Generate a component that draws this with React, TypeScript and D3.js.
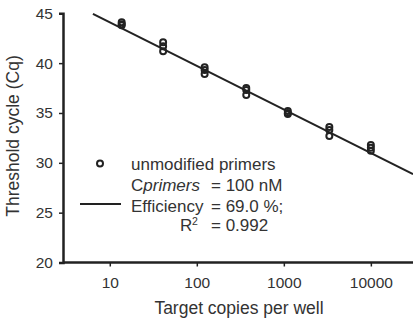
import { useEffect, useRef } from 'react';
import * as d3 from 'd3';

// Target copies per well (3-fold dilution series) and measured Cq, triplicates
const copies = [13.7, 41, 123, 370, 1111, 3333, 10000];
const cqRep1 = [44.1, 42.1, 39.6, 37.5, 35.2, 33.6, 31.8];
const cqRep2 = [43.9, 41.7, 39.3, 37.3, 35.0, 33.3, 31.5];
const cqRep3 = [43.8, 41.2, 38.9, 36.8, 34.9, 32.7, 31.2];

// Linear fit on log10(copies)
const fitSlope = -4.37;
const fitIntercept = 48.46;
const fitRange = [6.4, 30500];

const xTicks = [10, 100, 1000, 10000];
const yTicks = [20, 25, 30, 35, 40, 45];

const seriesLabel = 'unmodified primers';
const primerConc = '= 100 nM';
const efficiencyText = '= 69.0 %;';
const r2Text = '= 0.992';

const WIDTH = 413;
const HEIGHT = 324;
const FONT = '"Liberation Sans", Arial, Helvetica, sans-serif';
const INK = '#222';
const TEXT = '#333';

export default function App() {
    const svgRef = useRef<SVGSVGElement>(null);

    useEffect(() => {
        if (!svgRef.current) return;
        const root = d3.select(svgRef.current);
        root.selectAll('*').remove();

        const xScale = d3.scaleLog().domain([2.9, 30500]).range([63, 413]);
        const yScale = d3.scaleLinear().domain([20, 45]).range([262.5, 13.3]);

        // Axes
        const xAxis = root.append('g')
            .attr('transform', `translate(0, ${yScale(20)})`)
            .call(d3.axisBottom(xScale).tickValues(xTicks).tickFormat(d3.format('d')).tickSize(4).tickPadding(10));
        xAxis.select('.domain').attr('stroke', INK).attr('stroke-width', 2.5).attr('d', `M${xScale.range()[0]},0H${WIDTH}`);
        xAxis.selectAll('.tick line').attr('stroke', INK).attr('stroke-width', 1.5);
        xAxis.selectAll('.tick text')
            .attr('fill', TEXT)
            .style('font-family', FONT)
            .style('font-size', '15.5px');

        const yAxis = root.append('g')
            .attr('transform', `translate(${xScale.range()[0]}, 0)`)
            .call(d3.axisLeft(yScale).tickValues(yTicks).tickSize(4).tickPadding(6));
        yAxis.select('.domain').attr('stroke', INK).attr('stroke-width', 2.5);
        yAxis.selectAll('.tick line').attr('stroke', INK).attr('stroke-width', 1.5);
        yAxis.selectAll('.tick text')
            .attr('fill', TEXT)
            .style('font-family', FONT)
            .style('font-size', '15.5px');

        // Axis titles
        root.append('text')
            .attr('x', 239)
            .attr('y', 314)
            .attr('text-anchor', 'middle')
            .attr('fill', TEXT)
            .style('font-family', FONT)
            .style('font-size', '17.5px')
            .text('Target copies per well');

        root.append('text')
            .attr('transform', 'translate(19, 136) rotate(-90)')
            .attr('text-anchor', 'middle')
            .attr('fill', TEXT)
            .style('font-family', FONT)
            .style('font-size', '17.5px')
            .text('Threshold cycle (Cq)');

        // Fit line
        const fitData = fitRange.map(x => ({ x, y: fitIntercept + fitSlope * Math.log10(x) }));
        root.append('clipPath').attr('id', 'plot-clip')
            .append('rect').attr('x', 63).attr('y', 0).attr('width', WIDTH - 63).attr('height', HEIGHT);
        root.append('path')
            .datum(fitData)
            .attr('clip-path', 'url(#plot-clip)')
            .attr('fill', 'none')
            .attr('stroke', INK)
            .attr('stroke-width', 2)
            .attr('d', d3.line<{ x: number, y: number }>().x(d => xScale(d.x)).y(d => yScale(d.y)));

        // Data points
        const points = [cqRep1, cqRep2, cqRep3].flatMap(rep => rep.map((cq, i) => ({ x: copies[i], y: cq })));
        root.selectAll('.dot')
            .data(points)
            .enter()
            .append('circle')
            .attr('cx', d => xScale(d.x))
            .attr('cy', d => yScale(d.y))
            .attr('r', 3)
            .attr('fill', 'none')
            .attr('stroke', INK)
            .attr('stroke-width', 2);

        // Legend
        const legend = root.append('g')
            .attr('fill', TEXT)
            .style('font-family', FONT)
            .style('font-size', '17px');

        legend.append('circle')
            .attr('cx', 100).attr('cy', 163.5).attr('r', 3)
            .attr('fill', 'none').attr('stroke', INK).attr('stroke-width', 2);
        legend.append('text').attr('x', 131).attr('y', 169.5).text(seriesLabel);

        const cLine = legend.append('text').attr('x', 131).attr('y', 190.5);
        cLine.append('tspan').text('C');
        cLine.append('tspan').style('font-style', 'italic').text('primers');
        legend.append('text').attr('x', 211).attr('y', 190.5).text(primerConc);

        legend.append('line')
            .attr('x1', 80).attr('x2', 121).attr('y1', 204).attr('y2', 204)
            .attr('stroke', INK).attr('stroke-width', 2);
        legend.append('text').attr('x', 131).attr('y', 212).text('Efficiency');
        legend.append('text').attr('x', 211).attr('y', 212).text(efficiencyText);

        legend.append('text').attr('x', 180).attr('y', 231).text('R');
        legend.append('text').attr('x', 192).attr('y', 225).style('font-size', '10.5px').text('2');
        legend.append('text').attr('x', 211).attr('y', 231).text(r2Text);
    }, []);

    return (
        <svg
            ref={svgRef}
            width={WIDTH}
            height={HEIGHT}
            style={{ position: 'absolute', left: 0, top: 0, background: '#fff' }}
        />
    );
}
